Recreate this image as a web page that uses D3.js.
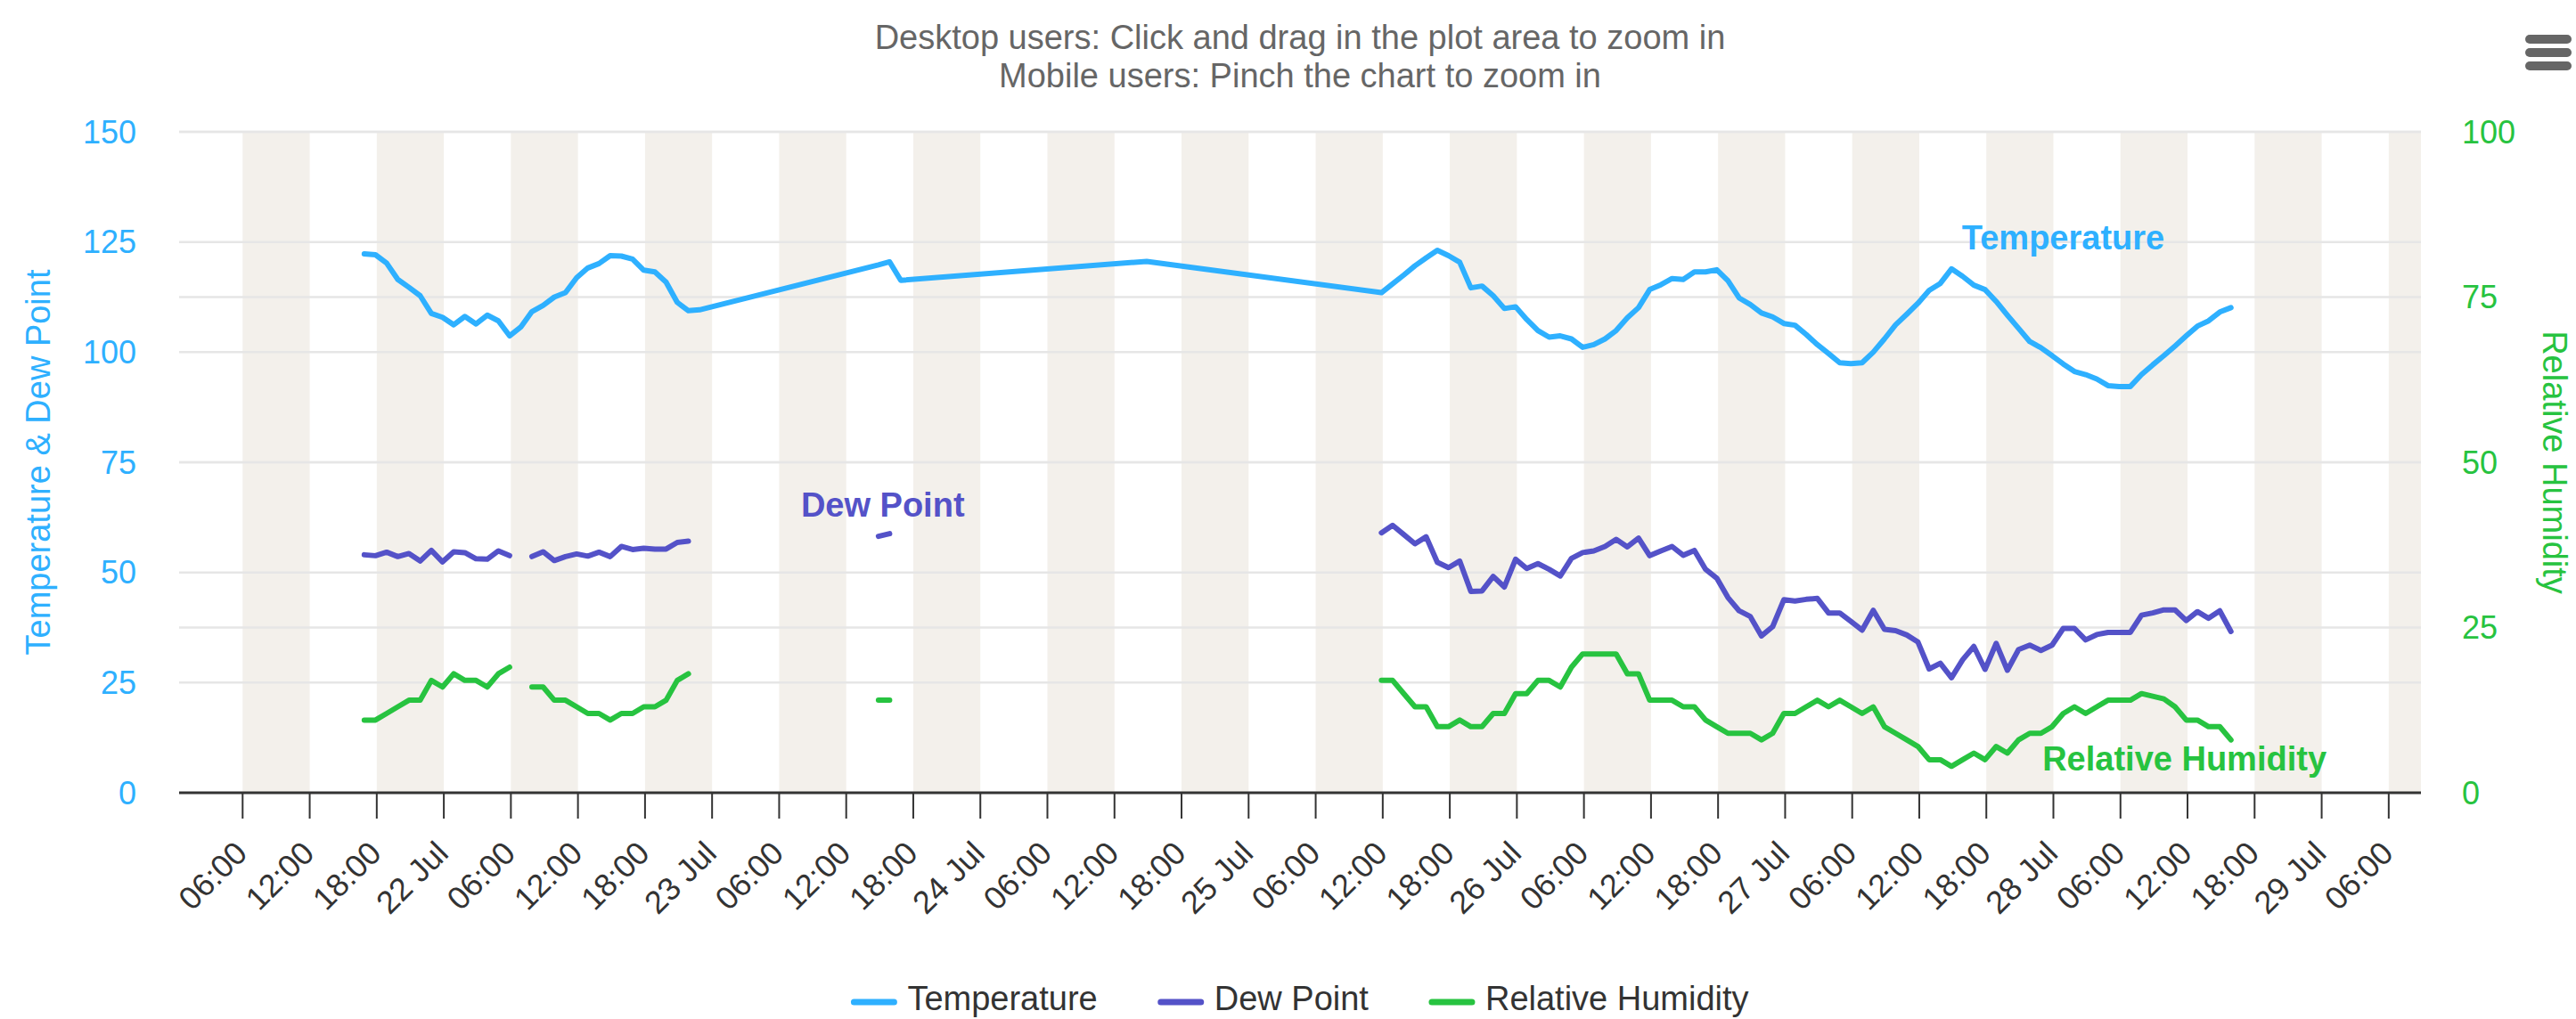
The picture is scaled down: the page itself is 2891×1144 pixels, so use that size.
<!DOCTYPE html>
<html>
<head>
<meta charset="utf-8">
<script src="https://cdn.jsdelivr.net/npm/d3@7"></script>
<style>
body { margin: 0; background: #fff; }
svg { display: block; font-family: "Liberation Sans", Arial, Helvetica, sans-serif; }
</style>
</head>
<body>
<svg id="chart"></svg>
<script>

var width = 2891,
    height = 1144;

var plot = {left: 201, right: 2717, top: 148, bottom: 890};

// observations come in at :53 past each hour, null = missing reading
var runStarts = ["2019-07-21T16:53", "2019-07-23T14:53", "2019-07-25T11:53"];

var tempRun1 = [122.3, 122.1, 120.2, 116.5, 114.7, 112.8, 108.8, 107.9, 106.2, 108.1,
                106.4, 108.4, 107.1, 103.7, 105.7, 109.2, 110.6, 112.5, 113.5, 116.9,
                119.1, 120.1, 121.9, 121.8, 121.1, 118.6, 118.2, 115.9, 111.3, 109.4, 109.6];
var dewRun1 = [54.0, 53.8, 54.6, 53.6, 54.3, 52.6, 55.0, 52.4, 54.7, 54.5,
               53.1, 53.0, 54.9, 53.8, null, 53.6, 54.7, 52.7, 53.6, 54.2,
               53.7, 54.6, 53.6, 55.9, 55.2, 55.5, 55.3, 55.3, 56.8, 57.1];
var rhRun1 = [11, 11, 12, 13, 14, 14, 17, 16, 18, 17,
              17, 16, 18, 19, null, 16, 16, 14, 14, 13,
              12, 12, 11, 12, 12, 13, 13, 14, 17, 18];

var tempRun2 = [119.8, 120.5, 116.3];
var dewRun2 = [58.2, 58.8];
var rhRun2 = [14, 14];

var tempLoneTime = "2019-07-24T14:53",
    tempLone = 120.6;

var tempRun3 = [113.5, 115.5, 117.5, 119.6, 121.4, 123.1, 121.9, 120.4, 114.6, 115.0,
                112.8, 109.9, 110.3, 107.4, 104.9, 103.4, 103.7, 103.0, 101.1, 101.7,
                103.0, 104.9, 107.8, 110.1, 114.2, 115.3, 116.7, 116.5, 118.2, 118.2,
                118.7, 116.2, 112.3, 110.8, 108.9, 108.0, 106.5, 106.1, 104.0, 101.7,
                99.7, 97.6, 97.4, 97.6, 100.0, 103.0, 106.2, 108.6, 111.1, 114.0,
                115.6, 118.9, 117.2, 115.2, 114.2, 111.5, 108.4, 105.4, 102.4, 101.0,
                99.2, 97.3, 95.6, 94.9, 93.9, 92.4, 92.2, 92.2, 94.9, 97.1,
                99.2, 101.4, 103.7, 105.9, 107.1, 109.1, 110.1];
var dewRun3 = [59.0, 60.7, 58.6, 56.5, 58.1, 52.3, 51.1, 52.6, 45.7, 45.8,
               49.1, 46.7, 53.0, 50.9, 52.0, 50.7, 49.2, 53.2, 54.5, 54.9,
               55.9, 57.5, 55.8, 57.8, 53.8, 54.9, 55.9, 53.9, 55.0, 50.7,
               48.7, 44.3, 41.3, 40.0, 35.6, 37.7, 43.8, 43.5, 43.9, 44.1,
               40.8, 40.8, 38.9, 36.9, 41.4, 37.1, 36.8, 35.8, 34.2, 28.1,
               29.4, 26.1, 30.2, 33.2, 28.0, 33.9, 27.8, 32.5, 33.5, 32.3,
               33.5, 37.3, 37.3, 34.7, 35.9, 36.4, 36.4, 36.4, 40.3, 40.8,
               41.5, 41.5, 39.1, 41.1, 39.6, 41.3, 36.6];
var rhRun3 = [17, 17, 15, 13, 13, 10, 10, 11, 10, 10,
              12, 12, 15, 15, 17, 17, 16, 19, 21, 21,
              21, 21, 18, 18, 14, 14, 14, 13, 13, 11,
              10, 9, 9, 9, 8, 9, 12, 12, 13, 14,
              13, 14, 13, 12, 13, 10, 9, 8, 7, 5,
              5, 4, 5, 6, 5, 7, 6, 8, 9, 9,
              10, 12, 13, 12, 13, 14, 14, 14, 15, 14.6,
              14.2, 13, 11, 11, 10, 10, 8];

var xDomain = ["2019-07-21T00:19", "2019-07-29T08:53"];
var leftTicks = [0, 25, 50, 75, 100, 125, 150];
var rightTicks = [0, 25, 50, 75, 100];

var seriesNames = ["Temperature", "Dew Point", "Relative Humidity"];
var colors = ["#2eb0ff", "#5452c8", "#27c340"];

// in-chart series labels, in data units (RH label on the right axis)
var labelTimes = ["2019-07-27T15:49", "2019-07-23T07:57", "2019-07-27T23:01"];
var labelValues = [123.3, 62.7, 3.4];

var parse = d3.timeParse("%Y-%m-%dT%H:%M");

function run(start, values) {
  var t0 = parse(start);
  return values.map(function(v, i) { return {t: d3.timeHour.offset(t0, i), v: v}; });
}

var tempData = run(runStarts[0], tempRun1)
  .concat(run(runStarts[1], tempRun2))
  .concat([{t: parse(tempLoneTime), v: tempLone}])
  .concat(run(runStarts[2], tempRun3));
var dewRuns = [run(runStarts[0], dewRun1), run(runStarts[1], dewRun2), run(runStarts[2], dewRun3)];
var rhRuns = [run(runStarts[0], rhRun1), run(runStarts[1], rhRun2), run(runStarts[2], rhRun3)];

var svg = d3.select("#chart")
    .attr("width", width)
    .attr("height", height);

var x = d3.scaleTime()
    .domain(xDomain.map(parse))
    .range([plot.left, plot.right]);

var yLeft = d3.scaleLinear().domain([0, 150]).range([plot.bottom, plot.top]);
var yRight = d3.scaleLinear().domain([0, 100]).range([plot.bottom, plot.top]);

// TITLE
svg.append("text")
    .attr("x", 1459).attr("y", 55)
    .attr("text-anchor", "middle")
    .attr("fill", "#666")
    .style("font-size", "38px")
    .text("Desktop users: Click and drag in the plot area to zoom in");
svg.append("text")
    .attr("x", 1459).attr("y", 98)
    .attr("text-anchor", "middle")
    .attr("fill", "#666")
    .style("font-size", "38px")
    .text("Mobile users: Pinch the chart to zoom in");

// menu button
[39, 54, 69].forEach(function(y) {
  svg.append("rect")
      .attr("x", 2834).attr("y", y)
      .attr("width", 52).attr("height", 10)
      .attr("rx", 5)
      .attr("fill", "#666");
});

// PLOT BANDS (06-12 and 18-24 every day)
var sixHours = x.ticks(d3.timeHour.every(6));
var bandStarts = sixHours.filter(function(t) { return t.getHours() === 6 || t.getHours() === 18; });
svg.append("g")
  .selectAll("rect")
  .data(bandStarts)
  .enter()
  .append("rect")
    .attr("x", function(d) { return x(d); })
    .attr("y", plot.top)
    .attr("width", function(d) {
      var end = Math.min(x(d3.timeHour.offset(d, 6)), plot.right);
      return end - x(d);
    })
    .attr("height", plot.bottom - plot.top)
    .attr("fill", "#f3f0eb");

// GRID
var gridYs = leftTicks.map(yLeft).concat(rightTicks.map(yRight))
    .filter(function(y) { return y < plot.bottom - 1; });
svg.append("g")
  .selectAll("line")
  .data(gridYs)
  .enter()
  .append("line")
    .attr("x1", plot.left).attr("x2", plot.right)
    .attr("y1", function(d) { return d; })
    .attr("y2", function(d) { return d; })
    .attr("stroke", "#e6e6e6")
    .attr("stroke-width", 2.5);

// X AXIS
var xAxis = svg.append("g");
xAxis.append("line")
    .attr("x1", plot.left).attr("x2", plot.right)
    .attr("y1", plot.bottom).attr("y2", plot.bottom)
    .attr("stroke", "#333")
    .attr("stroke-width", 3);

var dayFmt = d3.timeFormat("%-d %b"),
    hourFmt = d3.timeFormat("%H:%M");

xAxis.selectAll(".tick")
  .data(sixHours)
  .enter()
  .append("line")
    .attr("x1", function(d) { return x(d); })
    .attr("x2", function(d) { return x(d); })
    .attr("y1", plot.bottom).attr("y2", plot.bottom + 29)
    .attr("stroke", "#333")
    .attr("stroke-width", 2);

xAxis.selectAll(".lbl")
  .data(sixHours)
  .enter()
  .append("text")
    .attr("transform", function(d) { return "translate(" + (x(d) + 7) + "," + 960 + ") rotate(-45)"; })
    .attr("text-anchor", "end")
    .attr("fill", "#333")
    .style("font-size", "36px")
    .text(function(d) { return d.getHours() === 0 ? dayFmt(d) : hourFmt(d); });

// Y AXES
svg.append("g")
  .selectAll("text")
  .data(leftTicks)
  .enter()
  .append("text")
    .attr("x", 153)
    .attr("y", function(d) { return yLeft(d); })
    .attr("dy", "0.35em")
    .attr("text-anchor", "end")
    .attr("fill", colors[0])
    .style("font-size", "36px")
    .text(function(d) { return d; });

svg.append("g")
  .selectAll("text")
  .data(rightTicks)
  .enter()
  .append("text")
    .attr("x", 2763)
    .attr("y", function(d) { return yRight(d); })
    .attr("dy", "0.35em")
    .attr("text-anchor", "start")
    .attr("fill", colors[2])
    .style("font-size", "36px")
    .text(function(d) { return d; });

var yMid = (plot.top + plot.bottom) / 2;
svg.append("text")
    .attr("transform", "translate(56," + yMid + ") rotate(-90)")
    .attr("text-anchor", "middle")
    .attr("fill", colors[0])
    .style("font-size", "38px")
    .text("Temperature & Dew Point");
svg.append("text")
    .attr("transform", "translate(2854," + yMid + ") rotate(90)")
    .attr("text-anchor", "middle")
    .attr("fill", colors[2])
    .style("font-size", "38px")
    .text("Relative Humidity");

// SERIES
function lineFor(y) {
  return d3.line()
    .defined(function(d) { return d.v != null; })
    .x(function(d) { return x(d.t); })
    .y(function(d) { return y(d.v); });
}

var lines = svg.append("g")
    .attr("fill", "none")
    .attr("stroke-width", 6)
    .attr("stroke-linejoin", "round")
    .attr("stroke-linecap", "round");

lines.append("path")
    .attr("d", lineFor(yLeft)(tempData))
    .attr("stroke", colors[0]);

dewRuns.forEach(function(r) {
  lines.append("path").attr("d", lineFor(yLeft)(r)).attr("stroke", colors[1]);
});
rhRuns.forEach(function(r) {
  lines.append("path").attr("d", lineFor(yRight)(r)).attr("stroke", colors[2]);
});

// series labels
seriesNames.forEach(function(name, i) {
  var y = i === 2 ? yRight : yLeft;
  svg.append("text")
      .attr("x", x(parse(labelTimes[i])))
      .attr("y", y(labelValues[i]))
      .attr("fill", colors[i])
      .style("font-size", "38px")
      .style("font-weight", "bold")
      .text(name);
});

// LEGEND
var legend = svg.append("g");
var cursor = 0;
seriesNames.forEach(function(name, i) {
  var item = legend.append("g").attr("transform", "translate(" + cursor + ",0)");
  item.append("line")
      .attr("x1", 3).attr("x2", 48)
      .attr("y1", 1125).attr("y2", 1125)
      .attr("stroke", colors[i])
      .attr("stroke-width", 7)
      .attr("stroke-linecap", "round");
  var t = item.append("text")
      .attr("x", 63).attr("y", 1134)
      .attr("fill", "#333")
      .style("font-size", "38px")
      .text(name);
  cursor += 63 + t.node().getComputedTextLength() + 68;
});
var legendWidth = cursor - 68;
legend.attr("transform", "translate(" + (1459 - legendWidth / 2) + ",0)");

</script>
</body>
</html>
